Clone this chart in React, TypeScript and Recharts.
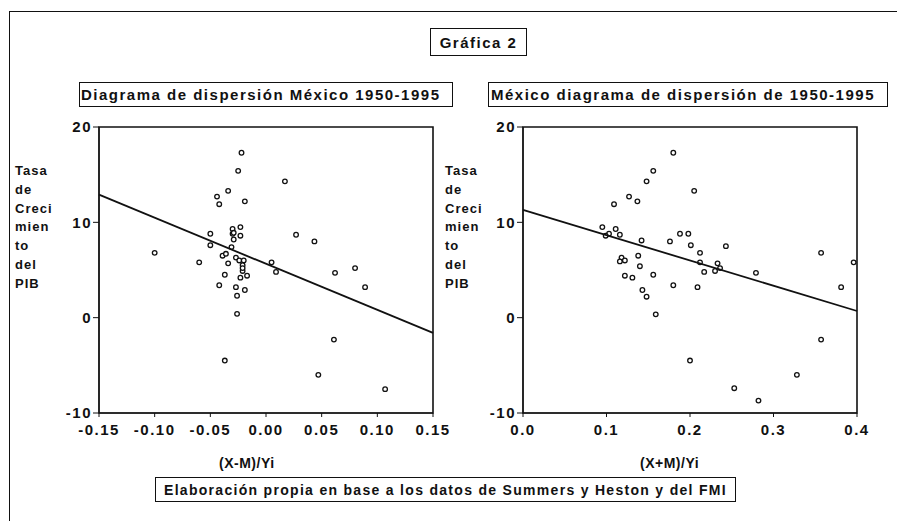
import {
  ScatterChart,
  Scatter,
  XAxis,
  YAxis,
  ReferenceArea,
} from 'recharts';

// (X-M)/Yi vs growth, Mexico 1950-1995
const leftX = [
  -0.022, -0.025, 0.017, -0.034, -0.044, -0.042, -0.019, -0.023, -0.03, -0.03,
  -0.023, -0.05, -0.05, -0.029, -0.031, 0.027, 0.0435, -0.1, -0.06, -0.039,
  -0.036, -0.034, -0.027, -0.024, -0.02, -0.021, -0.021, 0.005, 0.009, -0.037,
  -0.023, -0.017, -0.042, -0.027, -0.019, -0.026, -0.026, 0.062, 0.08, 0.089,
  0.061, -0.037, 0.047, 0.107, -0.029, -0.021,
];
const leftY = [
  17.3, 15.4, 14.3, 13.3, 12.7, 11.9, 12.2, 9.5, 9.3, 8.8,
  8.6, 8.8, 7.6, 8.2, 7.4, 8.7, 8.0, 6.8, 5.8, 6.5,
  6.7, 5.7, 6.3, 6.0, 6.0, 5.5, 4.9, 5.8, 4.8, 4.5,
  4.2, 4.4, 3.4, 3.2, 2.9, 2.3, 0.4, 4.7, 5.2, 3.2,
  -2.3, -4.5, -6.0, -7.5, 8.9, 5.2,
];

// (X+M)/Yi vs growth
const rightX = [
  0.18, 0.156, 0.148, 0.205, 0.127, 0.137, 0.109, 0.095, 0.111, 0.103,
  0.099, 0.116, 0.188, 0.198, 0.142, 0.176, 0.201, 0.243, 0.212, 0.138,
  0.118, 0.116, 0.122, 0.14, 0.212, 0.233, 0.236, 0.23, 0.217, 0.156,
  0.122, 0.131, 0.18, 0.209, 0.143, 0.148, 0.159, 0.279, 0.357, 0.396,
  0.381, 0.357, 0.2, 0.328, 0.253, 0.282,
];
const rightY = [
  17.3, 15.4, 14.3, 13.3, 12.7, 12.2, 11.9, 9.5, 9.3, 8.8,
  8.6, 8.7, 8.8, 8.8, 8.1, 8.0, 7.6, 7.5, 6.8, 6.5,
  6.3, 5.9, 6.0, 5.4, 5.8, 5.7, 5.2, 4.9, 4.8, 4.5,
  4.4, 4.2, 3.4, 3.2, 2.9, 2.2, 0.35, 4.7, 6.8, 5.8,
  3.2, -2.3, -4.5, -6.0, -7.4, -8.7,
];

// fitted line endpoints
const leftFitX = [-0.15, 0.15];
const leftFitY = [12.9, -1.6];
const rightFitX = [0, 0.4];
const rightFitY = [11.3, 0.7];

const yTicks = [-10, 0, 10, 20];
const leftTicks = [-0.15, -0.1, -0.05, 0, 0.05, 0.1, 0.15];
const rightTicks = [0, 0.1, 0.2, 0.3, 0.4];
const yLabelLines = ['Tasa', 'de', 'Creci', 'mien', 'to', 'del', 'PIB'];

const font = '"Liberation Sans", Arial, sans-serif';

const toPoints = (xs: number[], ys: number[]) => xs.map((x, i) => ({ x, y: ys[i] }));

const dot = (p: any) => (
  <circle cx={p.cx} cy={p.cy} r={2.3} fill="#fff" stroke="#111" strokeWidth={1.3} />
);

const tickStyle = { fill: '#111', fontSize: 15, fontWeight: 700, fontFamily: font, letterSpacing: 1.5 };

function Panel(props: {
  left: number;
  xs: number[];
  ys: number[];
  fitX: number[];
  fitY: number[];
  domain: [number, number];
  ticks: number[];
  digits: number;
}) {
  const { left, xs, ys, fitX, fitY, domain, ticks, digits } = props;
  return (
    <div style={{ position: 'absolute', left, top: 117 }}>
      <ScatterChart width={414} height={340} margin={{ top: 10, right: 36, bottom: 14, left: 0 }}>
        <XAxis
          type="number"
          dataKey="x"
          domain={domain}
          ticks={ticks}
          tickFormatter={(v: number) => v.toFixed(digits)}
          height={30}
          stroke="#111"
          tick={tickStyle}
          tickSize={4}
          tickMargin={7}
          interval={0}
        />
        <YAxis
          type="number"
          dataKey="y"
          domain={[-10, 20]}
          ticks={yTicks}
          width={44}
          stroke="#111"
          tick={tickStyle}
          tickSize={6}
          tickMargin={1}
          interval={0}
        />
        <ReferenceArea
          x1={domain[0]}
          x2={domain[1]}
          y1={-10}
          y2={20}
          fill="none"
          stroke="#111"
          strokeWidth={1.6}
          fillOpacity={0}
        />
        <Scatter data={toPoints(xs, ys)} shape={dot} isAnimationActive={false} />
        <Scatter
          data={toPoints(fitX, fitY)}
          line={{ stroke: '#111', strokeWidth: 1.8 }}
          shape={() => <g />}
          isAnimationActive={false}
        />
      </ScatterChart>
    </div>
  );
}

const boxText: React.CSSProperties = {
  position: 'absolute',
  border: '1.5px solid #111',
  fontFamily: font,
  fontWeight: 700,
  color: '#111',
  boxSizing: 'border-box',
  whiteSpace: 'nowrap',
  display: 'flex',
  alignItems: 'center',
};

function YLabel({ left }: { left: number }) {
  return (
    <div
      style={{
        position: 'absolute',
        left,
        top: 162,
        fontFamily: font,
        fontWeight: 700,
        fontSize: 13,
        letterSpacing: 1,
        lineHeight: '18.8px',
        color: '#111',
      }}
    >
      {yLabelLines.map((t) => (
        <div key={t}>{t}</div>
      ))}
    </div>
  );
}

export default function App() {
  return (
    <div
      style={{
        position: 'absolute',
        left: 0,
        top: 0,
        width: 897,
        height: 521,
        background: '#fff',
        overflow: 'hidden',
      }}
    >
      <div style={{ position: 'absolute', left: 9, top: 11, width: 900, height: 520, borderLeft: '1.5px solid #111', borderTop: '1.5px solid #111' }} />

      <div style={{ ...boxText, left: 430, top: 28, width: 97, height: 28, fontSize: 15, letterSpacing: 1.5, justifyContent: 'center' }}>
        Gráfica 2
      </div>
      <div style={{ ...boxText, left: 79, top: 82, width: 374, height: 25, fontSize: 15, letterSpacing: 1.5, paddingLeft: 1 }}>
        Diagrama de dispersión México 1950-1995
      </div>
      <div style={{ ...boxText, left: 488, top: 82, width: 400, height: 25, fontSize: 15, letterSpacing: 1.5, paddingLeft: 2 }}>
        México diagrama de dispersión de 1950-1995
      </div>

      <YLabel left={15} />
      <YLabel left={445} />

      <Panel left={55} xs={leftX} ys={leftY} fitX={leftFitX} fitY={leftFitY} domain={[-0.15, 0.15]} ticks={leftTicks} digits={2} />
      <Panel left={479} xs={rightX} ys={rightY} fitX={rightFitX} fitY={rightFitY} domain={[0, 0.4]} ticks={rightTicks} digits={1} />

      <div style={{ position: 'absolute', left: 219, top: 455, fontFamily: font, fontWeight: 700, fontSize: 14, letterSpacing: 0.5, color: '#111' }}>
        (X-M)/Yi
      </div>
      <div style={{ position: 'absolute', left: 640, top: 455, fontFamily: font, fontWeight: 700, fontSize: 14, letterSpacing: 0.5, color: '#111' }}>
        (X+M)/Yi
      </div>

      <div style={{ ...boxText, left: 155, top: 477, height: 25, fontSize: 14, letterSpacing: 1.3, padding: '0 8px' }}>
        Elaboración propia en base a los datos de Summers y Heston y del FMI
      </div>
    </div>
  );
}
